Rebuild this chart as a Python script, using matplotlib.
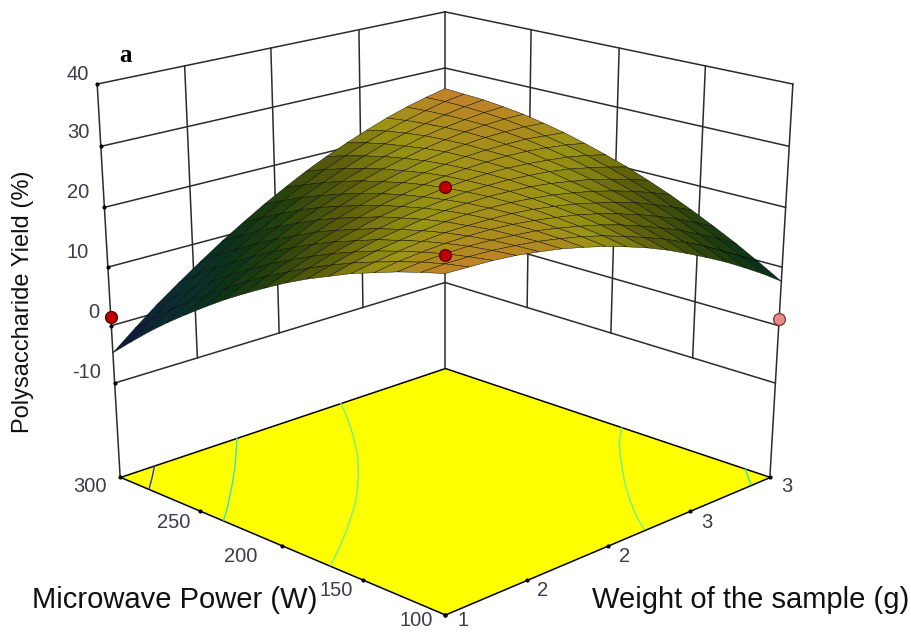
import numpy as np
import matplotlib
matplotlib.use('Agg')
import matplotlib.pyplot as plt
from matplotlib.colors import LinearSegmentedColormap, Normalize
from mpl_toolkits.mplot3d.art3d import Poly3DCollection

# values
weight = [1, 1.125, 1.25, 1.375, 1.5, 1.625, 1.75, 1.875, 2, 2.125, 2.25, 2.375, 2.5, 2.625, 2.75, 2.875, 3]
power = [100, 112.5, 125, 137.5, 150, 162.5, 175, 187.5, 200, 212.5, 225, 237.5, 250, 262.5, 275, 287.5, 300]
# one row per power, one column per weight
yield_pct = [
    [26.1, 26.0, 25.9, 25.6, 25.1, 24.5, 23.7, 22.8, 21.7, 20.5, 19.1, 17.5, 15.8, 14.0, 12.0, 9.9, 7.6],
    [25.2, 25.4, 25.4, 25.3, 25.0, 24.6, 24.0, 23.3, 22.4, 21.3, 20.1, 18.8, 17.3, 15.7, 13.8, 11.9, 9.8],
    [24.2, 24.6, 24.8, 24.9, 24.8, 24.5, 24.2, 23.6, 22.9, 22.1, 21.1, 19.9, 18.6, 17.2, 15.5, 13.8, 11.9],
    [23.0, 23.6, 24.0, 24.3, 24.4, 24.4, 24.2, 23.8, 23.3, 22.7, 21.9, 20.9, 19.8, 18.5, 17.1, 15.5, 13.8],
    [21.8, 22.5, 23.1, 23.6, 23.9, 24.0, 24.0, 23.9, 23.6, 23.1, 22.5, 21.7, 20.8, 19.8, 18.5, 17.1, 15.6],
    [20.3, 21.3, 22.1, 22.7, 23.2, 23.6, 23.8, 23.8, 23.7, 23.4, 23.0, 22.4, 21.7, 20.8, 19.8, 18.6, 17.3],
    [18.8, 19.9, 20.9, 21.8, 22.4, 23.0, 23.4, 23.6, 23.7, 23.6, 23.4, 23.0, 22.4, 21.8, 20.9, 19.9, 18.8],
    [17.1, 18.4, 19.6, 20.6, 21.5, 22.2, 22.8, 23.2, 23.5, 23.6, 23.6, 23.4, 23.1, 22.6, 21.9, 21.1, 20.2],
    [15.2, 16.7, 18.1, 19.4, 20.4, 21.4, 22.1, 22.7, 23.2, 23.5, 23.7, 23.7, 23.5, 23.2, 22.8, 22.2, 21.4],
    [13.2, 15.0, 16.5, 18.0, 19.2, 20.3, 21.3, 22.1, 22.8, 23.3, 23.6, 23.8, 23.9, 23.8, 23.5, 23.1, 22.5],
    [11.1, 13.0, 14.8, 16.4, 17.9, 19.2, 20.3, 21.3, 22.2, 22.9, 23.4, 23.8, 24.0, 24.1, 24.1, 23.8, 23.5],
    [8.8, 10.9, 12.9, 14.7, 16.3, 17.9, 19.2, 20.4, 21.4, 22.3, 23.1, 23.7, 24.1, 24.4, 24.5, 24.5, 24.3],
    [6.4, 8.7, 10.9, 12.9, 14.7, 16.4, 18.0, 19.3, 20.6, 21.7, 22.6, 23.4, 24.0, 24.5, 24.8, 25.0, 25.0],
    [3.9, 6.4, 8.7, 10.9, 12.9, 14.8, 16.6, 18.1, 19.6, 20.8, 22.0, 22.9, 23.8, 24.4, 24.9, 25.3, 25.5],
    [1.2, 3.9, 6.4, 8.8, 11.0, 13.1, 15.0, 16.8, 18.4, 19.9, 21.2, 22.4, 23.4, 24.2, 24.9, 25.5, 25.9],
    [-1.7, 1.2, 3.9, 6.5, 9.0, 11.2, 13.3, 15.3, 17.1, 18.8, 20.3, 21.7, 22.9, 23.9, 24.8, 25.6, 26.1],
    [-4.7, -1.6, 1.4, 4.1, 6.7, 9.2, 11.5, 13.7, 15.7, 17.6, 19.3, 20.8, 22.2, 23.5, 24.6, 25.5, 26.3],
]
# the original spaces its ticks evenly on screen, so they sit a bit off the round values here
weight_ticks = [1, 1.46, 1.94, 2.46, 3]
weight_labels = ['1', '2', '2', '3', '3']
power_ticks = [100, 146, 194, 246, 300]
power_labels = ['100', '150', '200', '250', '300']
z_ticks = [-10, 0, 10, 20, 30, 40]
contour_levels = [0, 10, 20]
contour_colors = ['#2a2ae0', '#30e0d0', '#70f090']
floor_z = -26.8
# design points
red_weight = [2, 1, 1]
red_power = [200, 100, 300]
red_yield = [23.4, 28.8, 1.5]
pink_weight = [3]
pink_power = [100]
pink_yield = [1.2]

W, H = 912, 632
fig = plt.figure(figsize=(W / 100, H / 100), dpi=100, facecolor='white')
# 3d view limits are lopsided (-0.95..0.9), so the centre sits at 0.5135 of the axes
shrink = 0.9
side = 1200.4 / shrink
cx, cy = 445, 612
ax = fig.add_axes([(cx - 0.5135 * side) / W, (H - cy - 0.5135 * side) / H, side / W, side / H],
                  projection='3d', computed_zorder=False)
ax.set_axis_off()
ax.view_init(elev=25, azim=-135)
ax.set_box_aspect((0.1773, 0.1773, 0.4199), zoom=shrink)
ax.set_proj_type('persp', focal_length=0.3896 * shrink)

line = '#2b2b2b'
lw = 1.1

# floor
floor = Poly3DCollection([[(1, 100, floor_z), (3, 100, floor_z), (3, 300, floor_z), (1, 300, floor_z)]],
                         facecolor='#ffff00', edgecolor='black', linewidth=1.1, zorder=1)
ax.add_collection3d(floor)

X, Y = np.meshgrid(weight, power)
Z = np.array(yield_pct)
ax.contour(X, Y, Z, levels=contour_levels, colors=contour_colors, linewidths=1.0,
           zdir='z', offset=floor_z, zorder=2)

# walls
for z in z_ticks:
    ax.plot([1, 3], [300, 300], [z, z], color=line, lw=lw, zorder=3)
    ax.plot([3, 3], [300, 100], [z, z], color=line, lw=lw, zorder=3)
for x in weight_ticks[1:-1]:
    ax.plot([x, x], [300, 300], [-10, 40], color=line, lw=lw, zorder=3)
for y in power_ticks[1:-1]:
    ax.plot([3, 3], [y, y], [-10, 40], color=line, lw=lw, zorder=3)
for x, y in [(1, 300), (3, 300), (3, 100)]:
    ax.plot([x, x], [y, y], [floor_z, 40], color=line, lw=lw, zorder=3)

# tick dots
ax.plot([1] * len(z_ticks), [300] * len(z_ticks), z_ticks, 'o', color='black', ms=2, zorder=3)
ax.plot(weight_ticks, [100] * 5, [floor_z] * 5, 'o', color='black', ms=2, zorder=3)
ax.plot([1] * 5, power_ticks, [floor_z] * 5, 'o', color='black', ms=2, zorder=3)

cmap = LinearSegmentedColormap.from_list('yield', [
    (0.0, '#10103f'), (0.16, '#0c2438'), (0.32, '#0a2f30'), (0.48, '#0a3218'),
    (0.635, '#22400c'), (0.79, '#5c5e0a'), (0.89, '#9a9414'), (0.95, '#b08a20'), (1.0, '#c97f30')])
ax.plot_surface(X, Y, Z, rstride=1, cstride=1, cmap=cmap, norm=Normalize(-5, 26.5),
                edgecolor='black', linewidth=0.3, antialiased=True, shade=False, zorder=4)

ax.plot(red_weight, red_power, red_yield, 'o', color='#c00000', mec='#600000', ms=8.5, zorder=5)
ax.plot(pink_weight, pink_power, pink_yield, 'o', color='#e88a8a', mec='#804040', ms=8.5, zorder=5)

ax.set_xlim(1, 3, view_margin=0)
ax.set_ylim(100, 300, view_margin=0)
ax.set_zlim(-144, 40, view_margin=0)


def label(px, py, s, **kw):
    fig.text(px / W, 1 - py / H, s, ha='center', va='center', **kw)


plt.rcParams['font.family'] = ['Liberation Sans', 'DejaVu Sans']
tick = dict(fontsize=14.5, color='#3c3c4a')
for s, px, py in zip(z_ticks, [87, 94, 78, 78, 78, 78], [372, 313, 252, 192, 133, 74]):
    label(px, py, str(s), **tick)
for s, px, py in zip(power_labels, [416, 336, 241, 174, 90], [621, 590, 557, 523, 487]):
    label(px, py, s, **tick)
for s, px, py in zip(weight_labels, [463, 543, 625, 707, 787], [621, 590, 557, 522, 487]):
    label(px, py, s, **tick)
label(175, 600, 'Microwave Power (W)', fontsize=21, color='#111111')
label(751, 600, 'Weight of the sample (g)', fontsize=21, color='#111111')
label(23, 302, 'Polysaccharide Yield (%)', fontsize=17, color='#111111', rotation=90)
label(126, 56, 'a', fontsize=18, fontweight='bold', family='Liberation Serif', color='black')

fig.savefig('out.png', dpi=100)
